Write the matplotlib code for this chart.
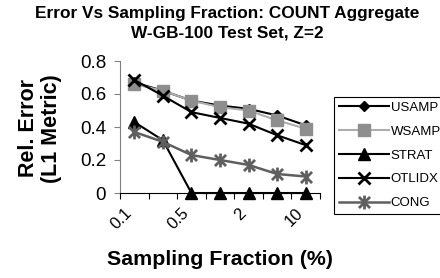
import matplotlib
matplotlib.use('Agg')
import matplotlib.pyplot as plt
import numpy as np
from matplotlib.path import Path

plt.rcParams['font.family'] = ['Liberation Sans', 'DejaVu Sans']

# sampling fraction categories (%), only every other one is labelled
cats = ['0.1', '0.25', '0.5', '1', '2', '5', '10']
usamp = [0.67, 0.62, 0.56, 0.53, 0.51, 0.47, 0.41]
wsamp = [0.66, 0.62, 0.56, 0.52, 0.50, 0.44, 0.39]
strat = [0.43, 0.32, 0.0, 0.0, 0.0, 0.0, 0.0]
otlidx = [0.685, 0.59, 0.49, 0.455, 0.42, 0.35, 0.29]
cong = [0.37, 0.31, 0.23, 0.20, 0.17, 0.115, 0.10]
yticks = [0, 0.2, 0.4, 0.6, 0.8]
ytick_labels = ['0', '0.2', '0.4', '0.6', '0.8']

# excel style star: an X with a vertical bar through it
star = Path([(-1, -1), (1, 1), (-1, 1), (1, -1), (0, -1.25), (0, 1.25)],
            [Path.MOVETO, Path.LINETO, Path.MOVETO, Path.LINETO,
             Path.MOVETO, Path.LINETO])

fig = plt.figure(figsize=(4.4, 2.78), dpi=100)
ax = fig.add_axes([120/440, 1-193/278, 200/440, 132/278])

x = np.arange(len(cats))
ax.plot(x, usamp, color='black', lw=1.5, marker='D', ms=5, label='USAMP', clip_on=False)
ax.plot(x, wsamp, color='#adadad', lw=1.5, marker='s', ms=9, mfc='#8e8e8e', mec='#8e8e8e',
        label='WSAMP', clip_on=False)
ax.plot(x, strat, color='black', lw=1.5, marker='^', ms=9, label='STRAT', clip_on=False)
ax.plot(x, otlidx, color='black', lw=1.5, marker='x', ms=9, mew=2, label='OTLIDX', clip_on=False)
ax.plot(x, cong, color='#5f5f5f', lw=1.8, marker=star, ms=10, mew=2, mec='#5f5f5f',
        label='CONG', clip_on=False)

ax.set_xlim(-0.5, len(cats) - 0.5)
ax.set_ylim(0, 0.8)
ax.set_xticks(np.arange(-0.5, len(cats), 1))
ax.set_xticklabels([])
ax.set_xticks(x[::2], cats[::2], minor=True)
ax.tick_params(axis='x', which='major', length=4, direction='out', color='black')
ax.tick_params(axis='x', which='minor', length=0, pad=9, labelsize=12)
for t in ax.get_xticklabels(minor=True):
    t.set_rotation(45)
    t.set_ha('right')
    t.set_va('top')
ax.set_yticks(yticks, ytick_labels)
ax.tick_params(axis='y', length=4, direction='out', color='#808080', labelsize=13.5, pad=6)

for s in ['top', 'right']:
    ax.spines[s].set_visible(False)
ax.spines['left'].set_color('#808080')
ax.spines['bottom'].set_color('black')

fig.text(0.516, 0.98, 'Error Vs Sampling Fraction: COUNT Aggregate\nW-GB-100 Test Set, Z=2',
         ha='center', va='top', fontsize=12.4, fontweight='bold', linespacing=1.45)
fig.text(0.091, 0.538, 'Rel. Error\n(L1 Metric)', rotation=90, ha='center', va='center',
         fontsize=15.5, fontweight='bold', linespacing=1.15)
fig.text(0.5, 0.065, 'Sampling Fraction (%)', ha='center', va='center',
         fontsize=15.4, fontweight='bold')

leg = fig.legend(loc='upper left', bbox_to_anchor=(334/440, 1-97/278), fontsize=9.5,
                 frameon=True, fancybox=False, edgecolor='black', framealpha=1,
                 handlelength=3.8, labelspacing=0.88, borderaxespad=0, borderpad=0.35,
                 handletextpad=0.15)
leg.get_frame().set_linewidth(0.8)

fig.savefig('out.png', dpi=100)
